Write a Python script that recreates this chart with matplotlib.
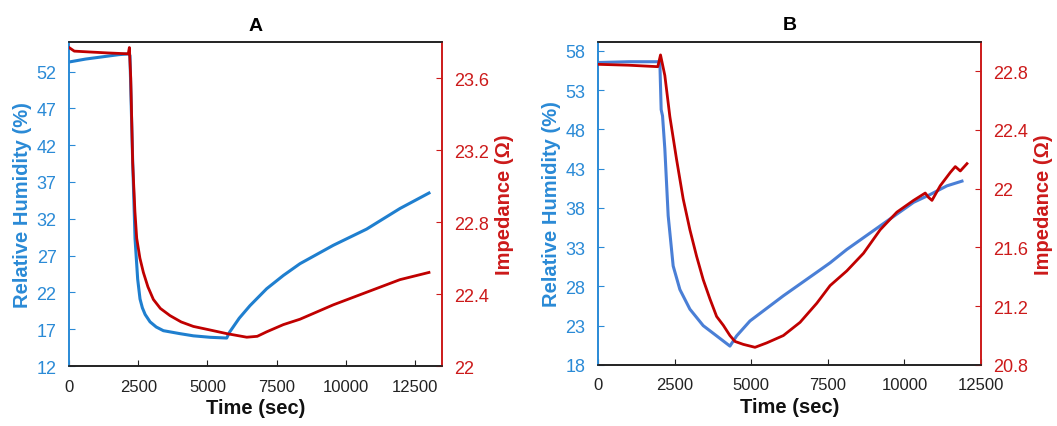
import matplotlib
matplotlib.use("Agg")
import matplotlib.pyplot as plt
import numpy as np

plt.rcParams['font.family'] = ['Liberation Sans', 'DejaVu Sans']

# ---- Panel A data ----
a_rh_t = [0, 600, 1200, 1800, 2150, 2200, 2300, 2385, 2480, 2565, 2650, 2750, 2927, 3150, 3408,
          4000, 4491, 5100, 5697, 5800, 6150, 6537, 7140, 7742, 8343, 9547, 10751, 11956, 13003]
a_rh = [53.3, 53.7, 54.0, 54.3, 54.4, 54.2, 39.7, 29.3, 23.8, 21.1, 19.9, 19.0, 18.0, 17.3, 16.8,
        16.4, 16.1, 15.9, 15.8, 16.6, 18.5, 20.2, 22.5, 24.3, 25.9, 28.4, 30.6, 33.4, 35.5]
a_z_t = [0, 190, 770, 1400, 2140, 2180, 2230, 2300, 2380, 2445, 2560, 2686, 2850, 3047, 3300,
         3649, 4050, 4491, 5100, 5697, 6420, 6800, 7140, 7742, 8343, 9547, 10751, 11956, 13003]
a_z = [23.77, 23.75, 23.745, 23.74, 23.735, 23.77, 23.60, 23.13, 22.86, 22.71, 22.60, 22.52, 22.44,
       22.37, 22.32, 22.28, 22.245, 22.22, 22.20, 22.18, 22.16, 22.165, 22.19, 22.23, 22.26, 22.34,
       22.41, 22.48, 22.52]

# ---- Panel B data ----
b_rh_t = [0, 1000, 2017, 2060, 2105, 2180, 2289, 2452, 2671, 2998, 3433, 3870, 4305,
          4524, 4959, 6048, 7140, 7574, 8119, 8664, 9209, 9754, 10299, 10844, 11388, 11879]
b_rh = [56.5, 56.6, 56.6, 50.5, 49.7, 45.5, 37.0, 30.6, 27.6, 25.1, 23.0, 21.7, 20.4,
        21.7, 23.6, 26.8, 29.8, 31.0, 32.7, 34.2, 35.7, 37.2, 38.7, 39.7, 40.8, 41.4]
b_z_t = [0, 1000, 1950, 2039, 2180, 2344, 2562, 2779, 2998, 3216, 3433, 3651, 3870, 4088, 4305,
         4469, 4741, 5123, 5505, 6048, 6594, 7140, 7574, 8119, 8664, 9209, 9754, 10299, 10680,
         10789, 10900, 11171, 11497, 11661, 11824, 12042]
b_z = [22.846, 22.84, 22.83, 22.91, 22.77, 22.49, 22.20, 21.93, 21.72, 21.54, 21.38, 21.25, 21.13,
       21.07, 21.00, 20.96, 20.94, 20.92, 20.95, 21.00, 21.09, 21.22, 21.34, 21.44, 21.56, 21.72,
       21.84, 21.92, 21.97, 21.94, 21.92, 22.02, 22.11, 22.15, 22.12, 22.17]

x_ticks_a = [0, 2500, 5000, 7500, 10000, 12500]
x_ticks_b = [0, 2500, 5000, 7500, 10000, 12500]
rh_ticks_a = [12, 17, 22, 27, 32, 37, 42, 47, 52]
rh_ticks_b = [18, 23, 28, 33, 38, 43, 48, 53, 58]
z_ticks_a = [22, 22.4, 22.8, 23.2, 23.6]
z_ticks_b = [20.8, 21.2, 21.6, 22, 22.4, 22.8]

BLUE_A = '#1f7fcf'
BLUE_B = '#4a7fd6'
RED = '#c00000'
BLUE_TXT = '#2a8ad6'
RED_TXT = '#cc1a1a'

fig = plt.figure(figsize=(10.57, 4.27), dpi=100)


def fmt(v):
    s = ('%.1f' % v)
    return s[:-2] if s.endswith('.0') else s


def panel(rect, title, t1, y1, t2, y2, xlim, ylim1, ylim2, xt, yt1, yt2, blue):
    ax = fig.add_axes(rect)
    ax2 = ax.twinx()
    ax.plot(t1, y1, color=blue, lw=2.2, zorder=3)
    ax2.plot(t2, y2, color=RED, lw=2.0, zorder=3)
    ax.set_xlim(*xlim)
    ax.set_ylim(*ylim1)
    ax2.set_ylim(*ylim2)
    ax.set_xticks(xt)
    ax.set_xticklabels([str(v) for v in xt])
    ax.set_yticks(yt1)
    ax.set_yticklabels([str(v) for v in yt1])
    ax2.set_yticks(yt2)
    ax2.set_yticklabels([fmt(v) for v in yt2])
    ax.tick_params(axis='x', direction='in', length=4, colors='#222222', labelsize=12, pad=9)
    ax.tick_params(axis='y', direction='in', length=4, colors=BLUE_TXT, labelsize=13, pad=9)
    ax2.tick_params(axis='y', direction='in', length=4, colors=RED_TXT, labelsize=13, pad=9)
    for a in (ax, ax2):
        a.spines['top'].set_color('#222222')
        a.spines['bottom'].set_color('#222222')
        a.spines['left'].set_color(BLUE_TXT)
        a.spines['right'].set_color(RED_TXT)
        for s in a.spines.values():
            s.set_linewidth(1.2)
    ax.set_xlabel('Time (sec)', fontsize=14.5, fontweight='bold', color='#111111', labelpad=3)
    ax.set_ylabel('Relative Humidity (%)', fontsize=14.5, fontweight='bold', color=BLUE_TXT, labelpad=3)
    ax2.set_ylabel('Impedance (Ω)', fontsize=14.5, fontweight='bold', color=RED_TXT, labelpad=4)
    ax.set_title(title, fontsize=14, fontweight='bold', pad=9)
    return ax, ax2


panel([0.0653, 0.1405, 0.3529, 0.7585], 'A', a_rh_t, a_rh, a_z_t, a_z,
      (0, 13475), (12, 56), (22, 23.8), x_ticks_a, rh_ticks_a, z_ticks_a, BLUE_A)
panel([0.5658, 0.1430, 0.3623, 0.7570], 'B', b_rh_t, b_rh, b_z_t, b_z,
      (0, 12500), (18, 59.15), (20.8, 23.0), x_ticks_b, rh_ticks_b, z_ticks_b, BLUE_B)

fig.savefig('out.png', dpi=100)
